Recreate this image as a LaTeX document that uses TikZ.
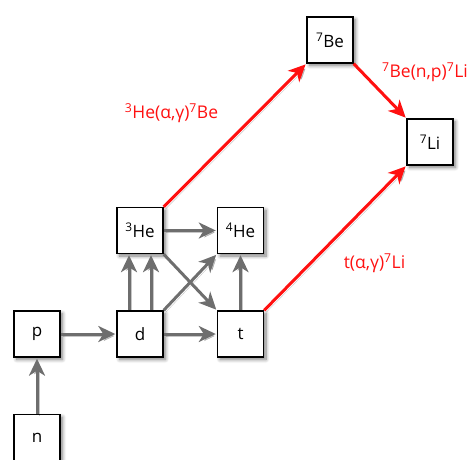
\documentclass[tikz,border=0pt]{standalone}
\usepackage{fontspec}
\setmainfont{Open Sans}
\usetikzlibrary{arrows.meta,shadows.blur}
\definecolor{flowgray}{HTML}{6E6E6E}
\definecolor{reactred}{HTML}{FF1010}
\tikzset{
  nuc/.style={draw=black, line width=1.4pt, fill=white, minimum size=46pt,
    inner sep=0pt, font=\fontsize{17}{20}\selectfont,
    blur shadow={shadow xshift=2.5pt, shadow yshift=-2.5pt,
      shadow blur radius=3.5pt, shadow blur steps=8, shadow opacity=50}},
  tipshape/.style={-{Stealth[length=17pt,width=16pt,inset=5pt]}},
  softshadow/.style={preaction={draw=black, opacity=0.22,
      transform canvas={shift={(2pt,-2pt)}}}},
  flow/.style={draw=flowgray, line width=3pt, tipshape, softshadow, shorten >=1pt},
  react/.style={draw=reactred, line width=3pt, tipshape, softshadow, shorten >=1pt},
  rlabel/.style={text=reactred, font=\fontsize{17.5}{20}\selectfont, inner sep=0pt}
}
\begin{document}
\begin{tikzpicture}[x=1pt, y=-1pt]
  \useasboundingbox (0,0) rectangle (469,459);
  \clip (0,0) rectangle (469,459);

  % nuclides
  \node[nuc] (n)   at (37,437.5)  {n};
  \node[nuc] (p)   at (37,334)    {p};
  \node[nuc] (d)   at (140,334)   {d};
  \node[nuc] (t)   at (240.5,334) {t};
  \node[nuc] (he3) at (140,230.5) {\textsuperscript{3}He};
  \node[nuc] (he4) at (240.5,230.5) {\textsuperscript{4}He};
  \node[nuc] (be7) at (330,40)    {\textsuperscript{7}Be};
  \node[nuc] (li7) at (430,142)   {\textsuperscript{7}Li};

  % light-element network
  \draw[flow] (n) -- (p);
  \draw[flow] (p) -- (d);
  \draw[flow] (d) -- (t);
  \draw[flow] ([xshift=-11pt]d.north) -- ([xshift=-11pt]he3.south);
  \draw[flow] ([xshift=11pt]d.north) -- ([xshift=11pt]he3.south);
  \draw[flow] (d.north east) -- (he4.south west);
  \draw[flow] (he3.south east) -- (t.north west);
  \draw[flow] (he3) -- (he4);
  \draw[flow] (t) -- (he4);

  % mass-7 reactions
  \draw[react] (he3.north east) -- (be7.south west);
  \draw[react] (be7.south east) -- (li7.north west);
  \draw[react] (t.north east) -- (li7.south west);

  % reaction labels
  \node[rlabel] (l1) at (171.5,113) {\textsuperscript{3}He(α,γ)\textsuperscript{7}Be};
  \node[rlabel] (l2) at (425,72)    {\textsuperscript{7}Be(n,p)\textsuperscript{7}Li};
  \node[rlabel] (l3) at (374.5,263) {t(α,γ)\textsuperscript{7}Li};
\end{tikzpicture}
\end{document}
